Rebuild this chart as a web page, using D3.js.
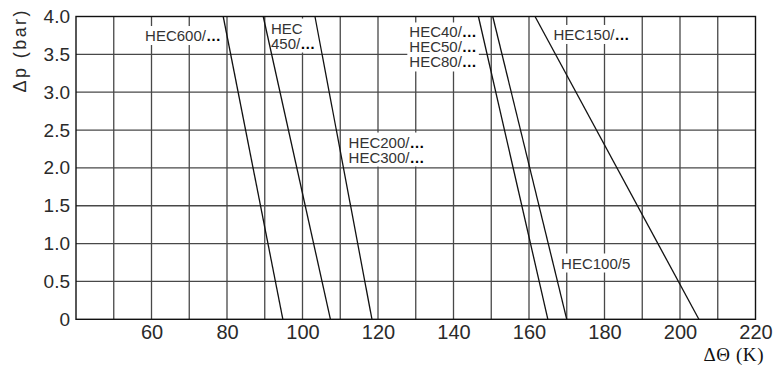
<!DOCTYPE html>
<html>
<head>
<meta charset="utf-8">
<script src="https://cdn.jsdelivr.net/npm/d3@7"></script>
<style>
  body { margin: 0; background: #fff; }
  svg { display: block; font-family: "Liberation Sans", Arial, sans-serif; }
</style>
</head>
<body>
<div id="chart"></div>
<script>
const width = 773;
const height = 365;

// axes
const xGridValues = [50, 60, 70, 80, 90, 100, 110, 120, 130, 140, 150, 160, 170, 180, 190, 200, 210];
const xTickValues = [60, 80, 100, 120, 140, 160, 180, 200, 220];
const yTickValues = [0, 0.5, 1.0, 1.5, 2.0, 2.5, 3.0, 3.5, 4.0];

// series: straight lines from (dtAtTop, 4 bar) down to (dtAtZero, 0 bar)
const seriesNames = ['HEC600', 'HEC450', 'HEC200/300', 'HEC40/50/80', 'HEC100/5', 'HEC150'];
const dtAtTop = [79.0, 89.6, 103.3, 146.6, 150.4, 161.6];
const dtAtZero = [94.8, 107.4, 118.4, 165.0, 170.0, 205.0];

// labels (anchor = left edge / first baseline, in data units)
const labelLines = [
    ['HEC600/…'],
    ['HEC', '450/…'],
    ['HEC200/…', 'HEC300/…'],
    ['HEC40/…', 'HEC50/…', 'HEC80/…'],
    ['HEC100/5'],
    ['HEC150/…']
];
const labelX = [58.3, 91.65, 112.2, 128.3, 168.5, 166.5];
const labelY = [3.676, 3.775, 2.269, 3.723, 0.671, 3.69];

const margin = {left: 76, right: 17.5, top: 16.5, bottom: 45.7};
const lineGap = 15;

const x = d3.scaleLinear().domain([40, 220]).range([margin.left, width - margin.right]);
const y = d3.scaleLinear().domain([0, 4]).range([height - margin.bottom, margin.top]);

const svg = d3.select('#chart').append('svg')
    .attr('width', width)
    .attr('height', height);

// grid
const grid = svg.append('g').attr('class', 'grid');
grid.selectAll('.vgrid')
    .data(xGridValues)
    .enter()
    .append('line')
    .attr('x1', d => x(d)).attr('x2', d => x(d))
    .attr('y1', y(0)).attr('y2', y(4))
    .attr('stroke', '#484848').attr('stroke-width', 1.3);
grid.selectAll('.hgrid')
    .data(yTickValues.filter(d => d > 0 && d < 4))
    .enter()
    .append('line')
    .attr('x1', x(40)).attr('x2', x(220))
    .attr('y1', d => y(d)).attr('y2', d => y(d))
    .attr('stroke', '#484848').attr('stroke-width', 1.3);

// frame
svg.append('rect')
    .attr('x', x(40)).attr('y', y(4))
    .attr('width', x(220) - x(40)).attr('height', y(0) - y(4))
    .attr('fill', 'none').attr('stroke', '#111').attr('stroke-width', 1.4);

// axes (labels only, no tick marks)
const xAxis = svg.append('g')
    .attr('transform', `translate(0,${y(0)})`)
    .call(d3.axisBottom(x).tickValues(xTickValues).tickSize(0).tickPadding(6).tickFormat(d3.format('d')));
xAxis.select('.domain').remove();
xAxis.selectAll('text')
    .attr('font-family', '"Liberation Sans", Arial, sans-serif')
    .attr('font-size', 20).attr('fill', '#2a2a2a');

const yAxis = svg.append('g')
    .attr('transform', `translate(${x(40)},0)`)
    .call(d3.axisLeft(y).tickValues(yTickValues).tickSize(0).tickPadding(6)
        .tickFormat(d => d === 0 ? '0' : d3.format('.1f')(d)));
yAxis.select('.domain').remove();
yAxis.selectAll('text')
    .attr('font-family', '"Liberation Sans", Arial, sans-serif')
    .attr('font-size', 19).attr('fill', '#2a2a2a');

// axis titles
svg.append('text')
    .attr('transform', 'translate(26,51.5) rotate(-90)')
    .attr('text-anchor', 'middle')
    .attr('font-size', 18)
    .attr('fill', '#2a2a2a')
    .attr('textLength', 82)
    .attr('lengthAdjust', 'spacing')
    .text('Δp (bar)');

svg.append('text')
    .attr('x', x(220) + 8)
    .attr('y', height - 4.5)
    .attr('text-anchor', 'end')
    .attr('font-family', '"Liberation Serif", "Times New Roman", serif')
    .attr('font-size', 19)
    .attr('fill', '#111')
    .attr('textLength', 60)
    .attr('lengthAdjust', 'spacing')
    .text('ΔΘ (K)');

// label boxes, series lines, label texts
const boxLayer = svg.append('g');
const lineLayer = svg.append('g');
const textLayer = svg.append('g');

const labelRows = [];
labelLines.forEach((lines, i) => {
    lines.forEach((line, k) => labelRows.push({text: line, i, k}));
});

const labelGroups = textLayer.selectAll('.label')
    .data(labelLines.map((lines, i) => ({lines, i})))
    .enter()
    .append('g')
    .attr('class', 'label');

labelGroups.each(function (d) {
    const g = d3.select(this);
    d.lines.forEach((line, k) => {
        const t = g.append('text')
            .attr('x', x(labelX[d.i]))
            .attr('y', y(labelY[d.i]) + k * lineGap)
            .attr('font-size', 15)
            .attr('fill', '#333');
        const parts = line.split('…');
        t.append('tspan').text(parts[0]);
        if (parts.length > 1) {
            t.append('tspan').attr('font-weight', 'bold').attr('fill', '#000').text('…');
        }
    });
    const b = this.getBBox();
    boxLayer.append('rect')
        .attr('x', b.x - 2).attr('y', b.y - 1)
        .attr('width', b.width + 4).attr('height', b.height + 2)
        .attr('fill', '#fff');
});

const lineGen = d3.line().x(d => x(d[0])).y(d => y(d[1]));
lineLayer.selectAll('.series')
    .data(seriesNames.map((name, i) => [[dtAtTop[i], 4], [dtAtZero[i], 0]]))
    .enter()
    .append('path')
    .attr('class', 'series')
    .attr('d', lineGen)
    .attr('fill', 'none')
    .attr('stroke', '#111')
    .attr('stroke-width', 1.3);
</script>
</body>
</html>
